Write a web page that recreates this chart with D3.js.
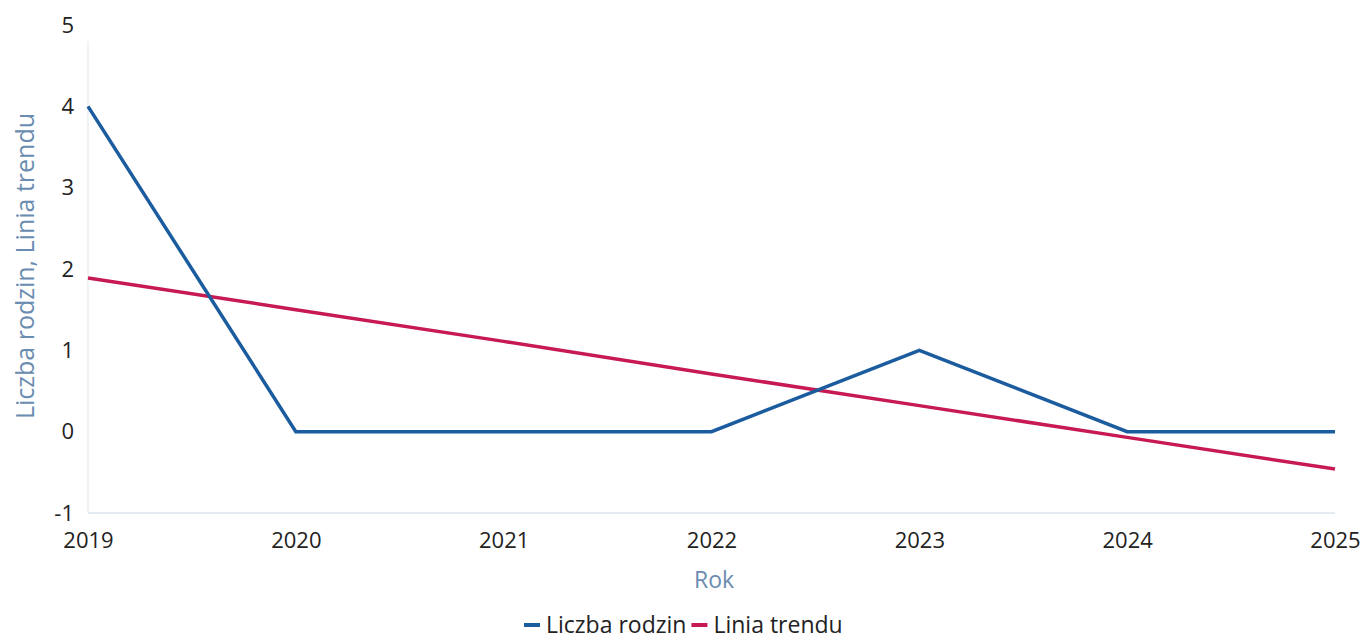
<!DOCTYPE html>
<html>
<head>
<meta charset="utf-8">
<script src="https://cdn.jsdelivr.net/npm/d3@7"></script>
<style>
  body { margin: 0; background: #fff; }
  svg { display: block; font-family: "Open Sans", sans-serif; }
</style>
</head>
<body>
<svg id="chart" width="1362" height="641"></svg>
<script>
var years = [2019, 2020, 2021, 2022, 2023, 2024, 2025];
var familyYears = [2019, 2020, 2022, 2023, 2024, 2025];
var familyCounts = [4, 0, 0, 1, 0, 0];
var trendValues = [1.89, 1.5, 1.11, 0.71, 0.32, -0.07, -0.46];
var yTicks = [-1, 0, 1, 2, 3, 4, 5];

var svg = d3.select("#chart"),
  margin = { left: 88, right: 27, top: 25, bottom: 135 },
  width = 1362,
  height = 641;

var x = d3.scaleLinear()
  .domain([2019, 2025])
  .range([margin.left, width - margin.right]);

var y = d3.scaleLinear()
  .domain([-1, 5])
  .range([height - margin.bottom + 7, margin.top]);

// axis lines
svg.append("line")
  .attr("x1", x(2019)).attr("x2", x(2019))
  .attr("y1", y(4.8)).attr("y2", y(-1))
  .attr("stroke", "#dfe7ef").attr("stroke-width", 1);
svg.append("line")
  .attr("x1", x(2019)).attr("x2", x(2025))
  .attr("y1", y(-1)).attr("y2", y(-1))
  .attr("stroke", "#c9d6e2").attr("stroke-width", 1);

// plain hyphen for negatives, like the original
var fmt = function(d) { return String(d); };

var yAxis = d3.axisLeft(y).tickValues(yTicks).tickSize(0).tickPadding(14)
  .tickFormat(fmt);
var gy = svg.append("g")
  .attr("transform", "translate(" + x(2019) + ",0)")
  .call(yAxis);
gy.select(".domain").remove();
gy.selectAll("text").attr("font-size", 22).attr("fill", "#222")
  .attr("font-family", "Open Sans, sans-serif");

var xAxis = d3.axisBottom(x).tickValues(years).tickSize(0).tickPadding(19)
  .tickFormat(fmt);
var gx = svg.append("g")
  .attr("transform", "translate(0," + y(-1) + ")")
  .call(xAxis);
gx.select(".domain").remove();
gx.selectAll("text").attr("font-size", 22).attr("fill", "#222")
  .attr("font-family", "Open Sans, sans-serif");

// titles
svg.append("text")
  .attr("transform", "translate(34,266) rotate(-90)")
  .attr("text-anchor", "middle")
  .attr("font-size", 25)
  .attr("fill", "#6a8cb0")
  .text("Liczba rodzin, Linia trendu");

svg.append("text")
  .attr("x", 714).attr("y", 588)
  .attr("text-anchor", "middle")
  .attr("font-size", 23)
  .attr("fill", "#6a8cb0")
  .text("Rok");

// lines
var line = d3.line()
  .x(function(d) { return x(d[0]); })
  .y(function(d) { return y(d[1]); });

svg.append("path")
  .datum(years.map(function(yr, i) { return [yr, trendValues[i]]; }))
  .attr("fill", "none")
  .attr("stroke", "#c81a52")
  .attr("stroke-width", 3.5)
  .attr("d", line);

svg.append("path")
  .datum(familyYears.map(function(yr, i) { return [yr, familyCounts[i]]; }))
  .attr("fill", "none")
  .attr("stroke", "#1b5c9e")
  .attr("stroke-width", 3.5)
  .attr("d", line);

// legend
var legend = [
  { name: "Liczba rodzin", color: "#1b5c9e" },
  { name: "Linia trendu", color: "#c81a52" }
];
var lg = svg.append("g").attr("transform", "translate(524,633)");
var lx = 0;
legend.forEach(function(d) {
  lg.append("rect")
    .attr("x", lx).attr("y", -10)
    .attr("width", 16).attr("height", 4)
    .attr("fill", d.color);
  var t = lg.append("text")
    .attr("x", lx + 22).attr("y", 0)
    .attr("font-size", 23)
    .attr("fill", "#222")
    .text(d.name);
  lx += 22 + t.node().getComputedTextLength() + 5;
});
</script>
</body>
</html>
